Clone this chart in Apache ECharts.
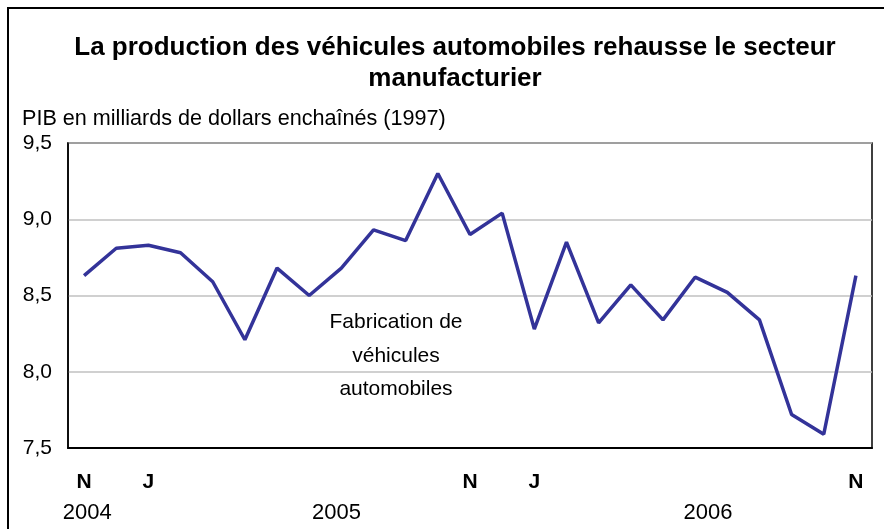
<!DOCTYPE html>
<html>
<head>
<meta charset="utf-8">
<script src="https://cdn.jsdelivr.net/npm/echarts@6/dist/echarts.min.js"></script>
<style>
html,body{margin:0;padding:0;background:#fff;}
#c{width:884px;height:529px;}
</style>
</head>
<body>
<div id="c"></div>
<script>
// Data: monthly, Nov 2004 to Nov 2006
var months = ['N','D','J','F','M','A','M','J','J','A','S','O','N','D','J','F','M','A','M','J','J','A','S','O','N'];
var shownMonthIdx = [0, 2, 12, 14, 24];
var values = [8.63, 8.81, 8.83, 8.78, 8.59, 8.21, 8.68, 8.50, 8.68, 8.93, 8.86, 9.30, 8.90, 9.04, 8.28, 8.85, 8.32, 8.57, 8.34, 8.62, 8.52, 8.34, 7.72, 7.59, 8.63];
var years = ['2004', '2005', '2006'];
var yearPos = [0.1, 7.85, 19.4];
var yTicks = [7.5, 8.0, 8.5, 9.0, 9.5];

var FONT = '"Liberation Sans", Arial, sans-serif';
var chart = echarts.init(document.getElementById('c'));

chart.setOption({
  animation: false,
  backgroundColor: '#fff',
  title: {
    text: 'La production des véhicules automobiles rehausse le secteur\nmanufacturier',
    left: 450, top: 27, textAlign: 'center',
    textStyle: { fontFamily: FONT, fontWeight: 'bold', fontSize: 26, color: '#000', lineHeight: 31 }
  },
  grid: { left: 68, right: 12, top: 143, bottom: 81, show: true, borderColor: '#000', borderWidth: 1.5 },
  xAxis: {
    type: 'category',
    data: months,
    boundaryGap: true,
    axisLine: { lineStyle: { color: '#000', width: 2 } },
    axisTick: { inside: true, length: 6, lineStyle: { color: '#000', width: 1 } },
    axisLabel: {
      interval: 0, margin: 24,
      fontFamily: FONT, fontWeight: 'bold', fontSize: 21, color: '#000',
      formatter: function (v, i) { return shownMonthIdx.indexOf(i) >= 0 ? v : ''; }
    },
    splitLine: { show: false }
  },
  yAxis: {
    type: 'value', min: 7.5, max: 9.5, interval: 0.5,
    axisLine: { show: true, lineStyle: { color: '#000', width: 1.5 } },
    axisTick: { show: false },
    axisLabel: {
      margin: 16, fontFamily: FONT, fontSize: 21, color: '#000',
      formatter: function (v) { return v.toFixed(1).replace('.', ','); }
    },
    splitLine: { lineStyle: { color: '#c0c0c0', width: 1.5 } }
  },
  series: [{
    type: 'line',
    data: values,
    symbol: 'none',
    lineStyle: { color: '#333399', width: 3.5 },
    z: 5
  }]
});

function drawExtras() {
  var g = [];
  var yb = chart.convertToPixel({ gridIndex: 0 }, [0, 7.5])[1];
  var x0 = chart.convertToPixel({ xAxisIndex: 0 }, 0);
  var x1 = chart.convertToPixel({ xAxisIndex: 0 }, 1);
  var step = x1 - x0;
  for (var i = 0; i < years.length; i++) {
    g.push({
      type: 'text', x: x0 + yearPos[i] * step, y: yb + 65,
      style: { text: years[i], fontFamily: FONT, fontSize: 22, fill: '#000', align: 'center', verticalAlign: 'middle' }
    });
  }
  g.push({
    type: 'text', x: 22, y: 119,
    style: { text: 'PIB en milliards de dollars enchaînés (1997)', fontFamily: FONT, fontSize: 21.6, fill: '#000', verticalAlign: 'middle' }
  });
  g.push({
    type: 'text', x: 396, y: 356,
    style: { text: 'Fabrication de\nvéhicules\nautomobiles', fontFamily: FONT, fontSize: 21, lineHeight: 33.5, fill: '#000', align: 'center', verticalAlign: 'middle' }
  });
  g.push({
    type: 'rect', shape: { x: 8, y: 8, width: 900, height: 600 },
    style: { fill: 'none', stroke: '#000', lineWidth: 2 }, silent: true
  });
  chart.setOption({ graphic: g });
}
drawExtras();
</script>
</body>
</html>
